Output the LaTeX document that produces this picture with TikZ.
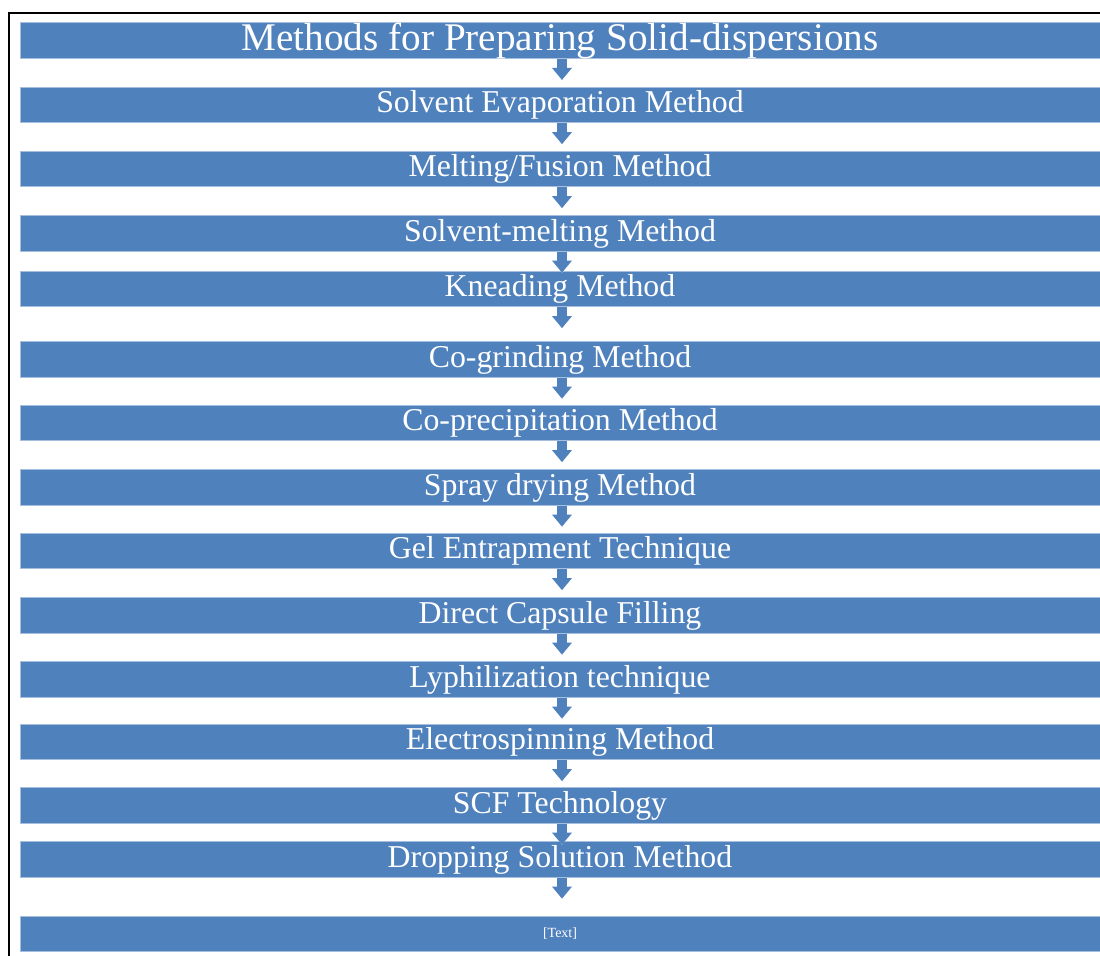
\documentclass[tikz,border=0pt]{standalone}
\usepackage{fontspec}
\setmainfont{Liberation Serif}
\usetikzlibrary{arrows.meta}
\definecolor{barblue}{HTML}{4F81BD}
\definecolor{baredge}{HTML}{A7BFDE}
\begin{document}
\begin{tikzpicture}[x=0.5pt,y=-0.5pt,
  bar/.style={fill=barblue, draw=baredge, line width=0.4pt, minimum width=540pt, minimum height=17.75pt, inner sep=0pt, text=white, font=\fontsize{15.9pt}{18pt}\selectfont},
  titlebar/.style={bar, font=\fontsize{19.6pt}{22pt}\selectfont},
  smallbar/.style={bar, font=\fontsize{7pt}{8pt}\selectfont},
  flow/.style={draw=barblue, line width=5pt, -{Triangle[width=10pt,length=6pt,line width=0pt]},
    preaction={draw=white, line width=6pt, -{Triangle[width=12pt,length=7.2pt,line width=0pt]}}}
]
\useasboundingbox (0,0) rectangle (1100,956);
\clip (0,0) rectangle (1100,956);
\draw[line width=1pt] (8.5,1000) -- (8.5,13.5) -- (1200,13.5);

\node[titlebar] (b1) at (560,40.5) {Methods for Preparing Solid-dispersions};
\node[bar] (b2) at (560,105) {Solvent Evaporation Method};
\node[bar] (b3) at (560,169) {Melting/Fusion Method};
\node[bar] (b4) at (560,233.5) {Solvent-melting Method};
\node[bar] (b5) at (560,289) {Kneading Method};
\node[bar] (b6) at (560,359.5) {Co-grinding Method};
\node[bar] (b7) at (560,423) {Co-precipitation Method};
\node[bar] (b8) at (560,487.5) {Spray drying Method};
\node[bar] (b9) at (560,551) {Gel Entrapment Technique};
\node[bar] (b10) at (560,615.5) {Direct Capsule Filling};
\node[bar] (b11) at (560,679.5) {Lyphilization technique};
\node[bar] (b12) at (560,742) {Electrospinning Method};
\node[bar] (b13) at (560,805.5) {SCF Technology};
\node[bar] (b14) at (560,859.5) {Dropping Solution Method};
\node[smallbar] (b15) at (560,934) {[Text]};

\foreach \n in {1,...,14}{
  \draw[flow] ([xshift=1pt]b\n.south) -- ++(0,21);
}
\end{tikzpicture}
\end{document}
